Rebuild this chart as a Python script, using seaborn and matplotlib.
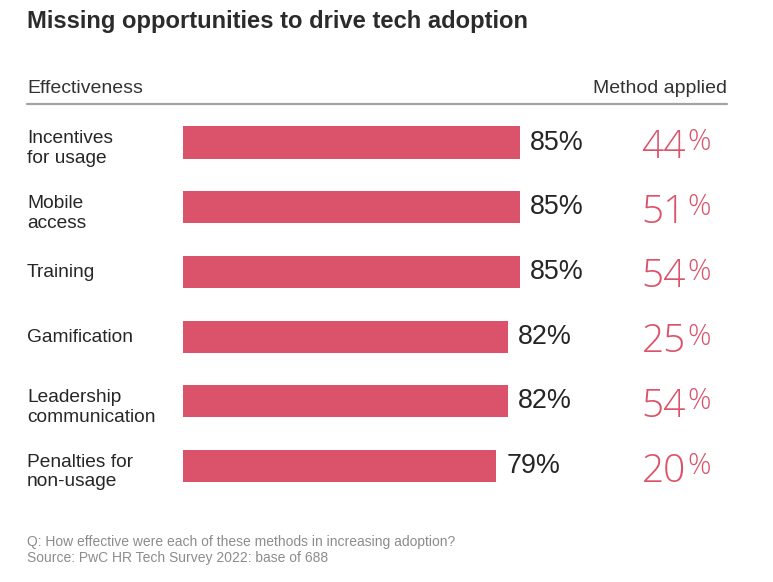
import matplotlib
matplotlib.use("Agg")
import matplotlib.pyplot as plt
import matplotlib.transforms as mtransforms
from matplotlib.lines import Line2D
import seaborn as sns
import pandas as pd

# ---- data ----
methods = ["Incentives\nfor usage", "Mobile\naccess", "Training", "Gamification",
           "Leadership\ncommunication", "Penalties for\nnon-usage"]
effectiveness = [85, 85, 85, 82, 82, 79]
method_applied = [44, 51, 54, 25, 54, 20]

title = "Missing opportunities to drive tech adoption"
left_header = "Effectiveness"
right_header = "Method applied"
footnotes = ["Q: How effective were each of these methods in increasing adoption?",
             "Source: PwC HR Tech Survey 2022: base of 688"]

PINK = "#db536a"
DARK = "#262626"
GREY = "#8c8c8c"

sns.set_theme(style="white")
plt.rcParams["font.family"] = ["Liberation Sans", "DejaVu Sans"]

W, H = 773, 582
DPI = 100
fig = plt.figure(figsize=(W / DPI, H / DPI), dpi=DPI)

def fx(px):
    return px / W

def fy(py):
    return 1 - py / H

# axes: x=0 at px 183.3, 3.957 px per percent
x0_px, x1_px = 183.3, 727.0
scale = 3.957
row_h = 64.7
top_px = 142.5 - row_h / 2
bot_px = top_px + row_h * len(methods)
ax = fig.add_axes([fx(x0_px), fy(bot_px), fx(x1_px - x0_px), (bot_px - top_px) / H])

df = pd.DataFrame({"method": methods, "effectiveness": effectiveness})
sns.barplot(data=df, x="effectiveness", y="method", orient="h", color=PINK,
            saturation=1, width=0.495, linewidth=0, ax=ax)
ax.set_xlim(0, (x1_px - x0_px) / scale)
ax.set_ylim(len(methods) - 0.5, -0.5)
for s in ax.spines.values():
    s.set_visible(False)
ax.set_xticks([])
ax.set_yticks([])
ax.set_xlabel("")
ax.set_ylabel("")
ax.patch.set_alpha(0)

blend = mtransforms.blended_transform_factory(fig.transFigure, ax.transData)
PFONT = ["Open Sans", "Liberation Sans"]

for i, (m, e, a) in enumerate(zip(methods, effectiveness, method_applied)):
    # category label
    off = 6 if "\n" in m else 1
    t = mtransforms.offset_copy(blend, fig=fig, x=0, y=-off, units="dots")
    ax.text(fx(27), i, m, transform=t, ha="left", va="center", fontsize=13.8,
            color=DARK, linespacing=1.22)
    # value label
    tv = mtransforms.offset_copy(ax.transData, fig=fig, x=10.6, y=0, units="dots")
    ax.text(e, i, f"{e}%", transform=tv, ha="left", va="center", fontsize=19.4,
            color=DARK)
    # method applied (big pink digits + small percent)
    td = mtransforms.offset_copy(blend, fig=fig, x=0, y=-15.5, units="dots")
    ax.text(fx(686), i, f"{a}", transform=td, ha="right", va="baseline",
            fontsize=28, color=PINK, family=PFONT, fontweight="light")
    tp = mtransforms.offset_copy(blend, fig=fig, x=0, y=-8.0, units="dots")
    ax.text(fx(687), i, "%", transform=tp, ha="left", va="baseline",
            fontsize=21, color=PINK, family=PFONT, fontweight="light")

# title and headers
fig.text(fx(27), fy(27.7), title, ha="left", va="baseline", fontsize=17.1,
         fontweight="bold", color="#2b2b2b")
fig.text(fx(27), fy(93.3), left_header, ha="left", va="baseline", fontsize=14,
         color="#333333")
fig.text(fx(727), fy(93.3), right_header, ha="right", va="baseline", fontsize=14,
         color="#333333")
fig.add_artist(Line2D([fx(27), fx(727)], [fy(104), fy(104)], color="#a3a3a3",
                      linewidth=1.6, transform=fig.transFigure))

# footnotes
fig.text(fx(27), fy(545.7), footnotes[0], ha="left", va="baseline", fontsize=10,
         color=GREY)
fig.text(fx(27), fy(562.3), footnotes[1], ha="left", va="baseline", fontsize=10,
         color=GREY)

fig.savefig("out.png", dpi=DPI, facecolor="white")
